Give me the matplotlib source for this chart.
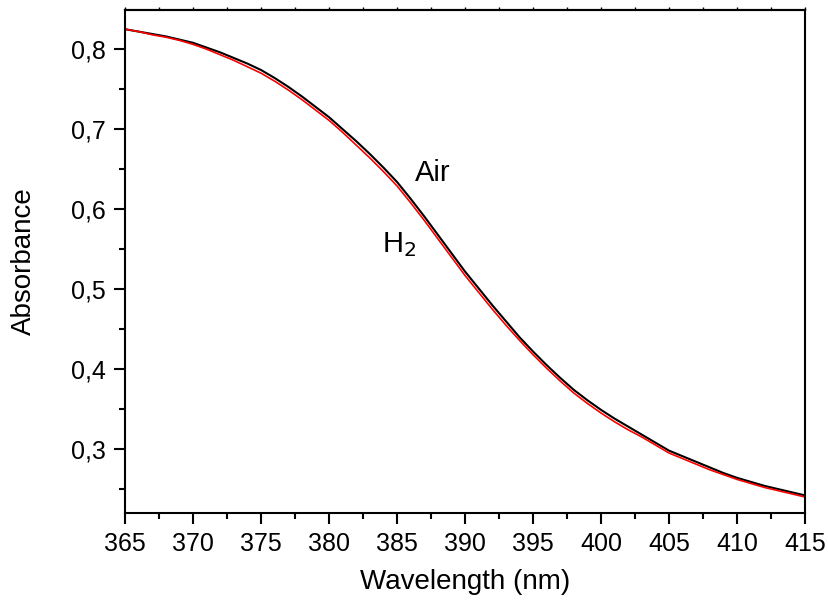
import numpy as np
import matplotlib
matplotlib.use('Agg')
import matplotlib.pyplot as plt
from matplotlib.ticker import MultipleLocator, FuncFormatter

plt.rcParams['font.family'] = ['Liberation Sans', 'DejaVu Sans']

# absorbance, every 1 nm from 365 to 415
wavelength = np.arange(365, 416)
air = [0.825, 0.822, 0.819, 0.816, 0.812, 0.808, 0.802, 0.796, 0.789, 0.782,
       0.774, 0.764, 0.753, 0.741, 0.728, 0.715, 0.700, 0.685, 0.669, 0.652,
       0.634, 0.613, 0.591, 0.568, 0.545, 0.522, 0.501, 0.480, 0.460, 0.440,
       0.422, 0.405, 0.389, 0.374, 0.361, 0.349, 0.338, 0.328, 0.318, 0.308,
       0.298, 0.291, 0.284, 0.277, 0.270, 0.264, 0.259, 0.254, 0.250, 0.246,
       0.242]
h2 = [0.825, 0.822, 0.818, 0.815, 0.811, 0.806, 0.800, 0.793, 0.786, 0.778,
      0.770, 0.760, 0.749, 0.737, 0.724, 0.711, 0.696, 0.680, 0.664, 0.647,
      0.629, 0.608, 0.586, 0.563, 0.540, 0.517, 0.496, 0.475, 0.455, 0.436,
      0.418, 0.401, 0.385, 0.370, 0.357, 0.345, 0.334, 0.324, 0.315, 0.305,
      0.295, 0.288, 0.281, 0.274, 0.268, 0.262, 0.257, 0.252, 0.248, 0.244,
      0.240]

fig = plt.figure(figsize=(8.29, 6.03), dpi=100)
ax = fig.add_axes([125/829, 1 - 513/603, 680/829, 503/603])

ax.plot(wavelength, air, color='black', lw=1.5)
ax.plot(wavelength, h2, color='red', lw=1.2)

ax.set_xlim(365, 415)
ax.set_ylim(0.22, 0.849)

ax.xaxis.set_major_locator(MultipleLocator(5))
ax.xaxis.set_minor_locator(MultipleLocator(2.5))
ax.yaxis.set_major_locator(MultipleLocator(0.1))
ax.yaxis.set_minor_locator(MultipleLocator(0.05))
ax.yaxis.set_major_formatter(FuncFormatter(lambda v, p: ('%.1f' % v).replace('.', ',')))

ax.tick_params(which='major', direction='out', length=8, width=1.5, labelsize=18, pad=6)
ax.tick_params(which='minor', direction='out', length=4, width=1.5)
ax.tick_params(which='both', top=False, right=False)
for side in ax.spines:
    ax.spines[side].set_linewidth(1.5)

# tiny marks along the top frame
top = ax.secondary_xaxis('top')
top.xaxis.set_major_locator(MultipleLocator(5))
top.xaxis.set_minor_locator(MultipleLocator(2.5))
top.tick_params(which='both', direction='out', length=2, width=1, labeltop=False)
top.spines['top'].set_linewidth(1.5)

ax.set_xlabel('Wavelength (nm)', fontsize=20, labelpad=9)
ax.set_ylabel('Absorbance', fontsize=20, labelpad=24)

ax.text(386.3, 0.645, 'Air', fontsize=21, ha='left', va='center')
ax.text(383.9, 0.556, 'H$_2$', fontsize=21, ha='left', va='center')

fig.savefig('out.png', dpi=100)
